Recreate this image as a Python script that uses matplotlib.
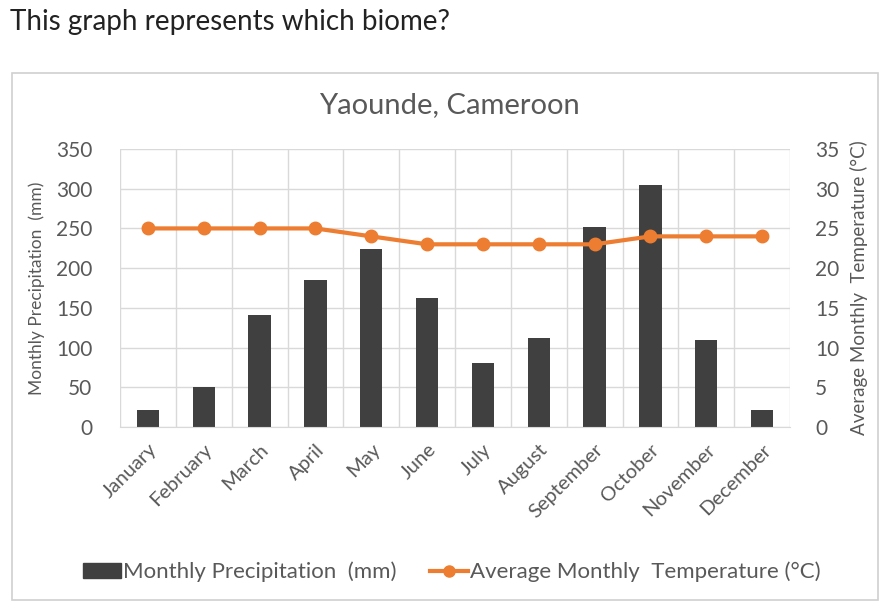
import matplotlib
matplotlib.use("Agg")
import matplotlib.pyplot as plt
from matplotlib.patches import Rectangle
from matplotlib.lines import Line2D
import numpy as np

months = ["January", "February", "March", "April", "May", "June", "July",
          "August", "September", "October", "November", "December"]
precip = [22, 50, 141, 185, 224, 163, 81, 112, 252, 305, 109, 22]
temp = [25, 25, 25, 25, 24, 23, 23, 23, 23, 24, 24, 24]
precip_ticks = [0, 50, 100, 150, 200, 250, 300, 350]
temp_ticks = [0, 5, 10, 15, 20, 25, 30, 35]

plt.rcParams['font.family'] = ['Lato', 'DejaVu Sans']
gray = '#595959'

fig = plt.figure(figsize=(8.9, 6.09), dpi=100)
fig.patch.set_facecolor('white')

fig.text(10/890, 1-22/609, "This graph represents which biome?", fontsize=20,
         color='#222222', va='center', ha='left')
fig.patches.append(Rectangle((12/890, 1-600/609), 866/890, 527/609,
                             transform=fig.transFigure, fill=False,
                             edgecolor='#d0d0d0', linewidth=1.2))
fig.text(449/890, 1-105/609, "Yaounde, Cameroon", fontsize=21, color=gray,
         ha='center', va='center')

ax = fig.add_axes([120/890, 1-427/609, 670/890, 278/609])
x = np.arange(len(months))
ax.bar(x, precip, width=0.4, color='#404040', zorder=2)
ax.set_xlim(-0.5, len(months)-0.5)
ax.set_ylim(0, 350)
ax.set_yticks(precip_ticks)
ax.set_xticks(x)
ax.set_xticklabels(months, rotation=45, ha='right', rotation_mode='anchor',
                   fontsize=14.5, color=gray)
ax.set_xticks(np.arange(-0.5, len(months)), minor=True)
ax.grid(True, which='minor', axis='x', color='#d9d9d9', linewidth=1, zorder=0)
ax.grid(True, which='major', axis='y', color='#d9d9d9', linewidth=1, zorder=0)
ax.tick_params(axis='x', which='both', length=0, pad=10)
ax.tick_params(axis='y', length=0, labelsize=15, labelcolor=gray, pad=20)
for s in ax.spines.values():
    s.set_visible(False)
ax.spines['bottom'].set_visible(True)
ax.spines['bottom'].set_color('#d9d9d9')
ax.set_ylabel("Monthly Precipitation  (mm)", fontsize=12.5, color=gray, labelpad=8)

ax2 = ax.twinx()
ax2.plot(x, temp, color='#ED7D31', linewidth=3, marker='o', markersize=9, zorder=3)
ax2.set_ylim(0, 35)
ax2.set_yticks(temp_ticks)
ax2.tick_params(axis='y', length=0, labelsize=15, labelcolor=gray, pad=18)
for s in ax2.spines.values():
    s.set_visible(False)
ax2.set_ylabel("Average Monthly  Temperature (°C)", fontsize=13.5, color=gray, labelpad=8)

handles = [Rectangle((0, 0), 1, 1, color='#404040'),
           Line2D([], [], color='#ED7D31', linewidth=3, marker='o', markersize=8)]
fig.legend(handles, ["Monthly Precipitation  (mm)", "Average Monthly  Temperature (°C)"],
           loc='center', bbox_to_anchor=(452/890, 1-572/609), ncol=2, frameon=False,
           fontsize=16, labelcolor=gray, handlelength=1.7, handletextpad=0.1,
           columnspacing=1.5)

fig.savefig("out.png", dpi=100)
